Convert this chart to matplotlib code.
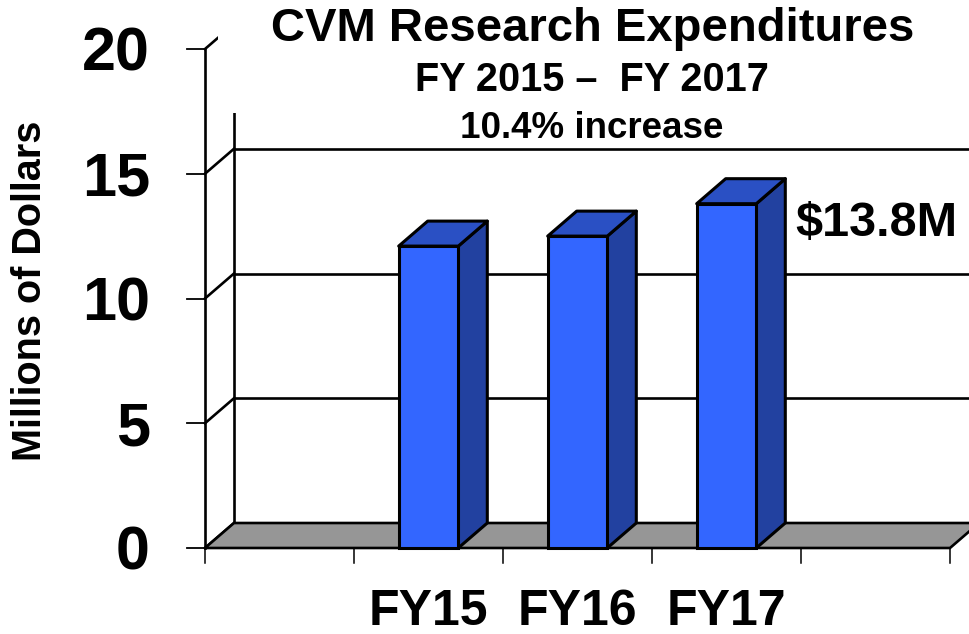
# CVM research expenditures, drawn as a pseudo-3D bar chart
import matplotlib
matplotlib.use("Agg")
import matplotlib.pyplot as plt
from matplotlib.patches import Polygon, Rectangle

plt.rcParams['font.family'] = ['Liberation Sans', 'DejaVu Sans']
plt.rcParams['font.weight'] = 'bold'

# data
categories = ['', 'FY15', 'FY16', 'FY17', '']
values = [None, 12.1, 12.5, 13.8, None]
y_ticks = [0, 5, 10, 15, 20]
callout = '$13.8M'

# colours
front_col = '#3366ff'
side_col = '#2241a0'
top_col = '#2a50c4'
floor_col = '#969696'

W, H = 970, 634
fig = plt.figure(figsize=(W / 100, H / 100), dpi=100)
ax = fig.add_axes([0, 0, 1, 1])
ax.axis('off')

# pixel layout of the front plane: x 0..5 -> 205..950 px, y 0..20 -> 548..49 px
px_per_cat = 149.0
px_per_val = (548 - 49) / 20.0
ax.set_xlim(-205 / px_per_cat, (W - 205) / px_per_cat)
ax.set_ylim(-(H - 548) / px_per_val, 548 / px_per_val)

dx = 29 / px_per_cat   # depth offset in category units
dy = 25 / px_per_val   # depth offset in value units
n = len(categories)
lw = 1.9
bar_lw = 2.2

# back wall gridlines and left wall
for v in y_ticks:
    if v > 0:
        ax.plot([dx, n + dx], [v + dy, v + dy], color='black', lw=lw, zorder=1)
    ax.plot([0, dx], [v, v + dy], color='black', lw=lw, zorder=1)
    ax.plot([-18 / px_per_cat, 0], [v, v], color='black', lw=1.3, zorder=1)
ax.plot([dx, dx], [dy, max(y_ticks) + dy], color='black', lw=lw, zorder=1)
ax.plot([0, 0], [0, max(y_ticks)], color='black', lw=lw, zorder=1)

# floor
floor = Polygon([(0, 0), (n, 0), (n + dx, dy), (dx, dy)], closed=True,
                facecolor=floor_col, edgecolor='black', lw=lw, zorder=2)
ax.add_patch(floor)

# category ticks below the floor
for i in range(n + 1):
    ax.plot([i, i], [0, -15 / px_per_val], color='black', lw=1.1, zorder=2)

# bars
w = 0.4
for i, v in enumerate(values):
    if v is None:
        continue
    c = i + 0.5
    l, r = c - w / 2, c + w / 2
    ax.add_patch(Polygon([(r, 0), (r + dx, dy), (r + dx, v + dy), (r, v)],
                         closed=True, facecolor=side_col, edgecolor='black',
                         lw=bar_lw, joinstyle='round', zorder=3))
    ax.add_patch(Polygon([(l, v), (r, v), (r + dx, v + dy), (l + dx, v + dy)],
                         closed=True, facecolor=top_col, edgecolor='black',
                         lw=bar_lw, joinstyle='round', zorder=3))
    ax.add_patch(Rectangle((l, 0), w, v, facecolor=front_col,
                           edgecolor='black', lw=bar_lw, zorder=4))

# white title box hiding the top of the back wall
fig.patches.append(Rectangle((218 / W, 1 - 113 / H), 1, 113 / H,
                             transform=fig.transFigure, facecolor='white',
                             edgecolor='none', zorder=5))

# y tick labels
for v in y_ticks:
    ax.text(-55 / px_per_cat, v - 22 / px_per_val, str(v), ha='right',
            va='baseline', fontsize=44, fontweight='bold', zorder=6)

# x labels
for i, lab in enumerate(categories):
    if lab:
        ax.text(i + 0.5, -77 / px_per_val, lab, ha='center', va='baseline',
                fontsize=36, fontweight='bold', zorder=6)

# value callout
ax.text(795 / px_per_cat - 205 / px_per_cat, values[3] - 32 / px_per_val,
        callout, ha='left', va='baseline', fontsize=35, fontweight='bold',
        zorder=6)

# titles
fig.text(593 / W, 1 - 41 / H, 'CVM Research Expenditures', ha='center',
         va='baseline', fontsize=34, fontweight='bold', zorder=7)
fig.text(592 / W, 1 - 91 / H, 'FY 2015 \u2013  FY 2017', ha='center',
         va='baseline', fontsize=28.5, fontweight='bold', zorder=7)
fig.text(592 / W, 1 - 138 / H, '10.4% increase', ha='center',
         va='baseline', fontsize=26.5, fontweight='bold', zorder=7)

# y axis label
fig.text(30 / W, 1 - 291 / H, 'Millions of Dollars', rotation=90,
         ha='center', va='center', fontsize=28.5, fontweight='bold')

fig.savefig('out.png', dpi=100)
